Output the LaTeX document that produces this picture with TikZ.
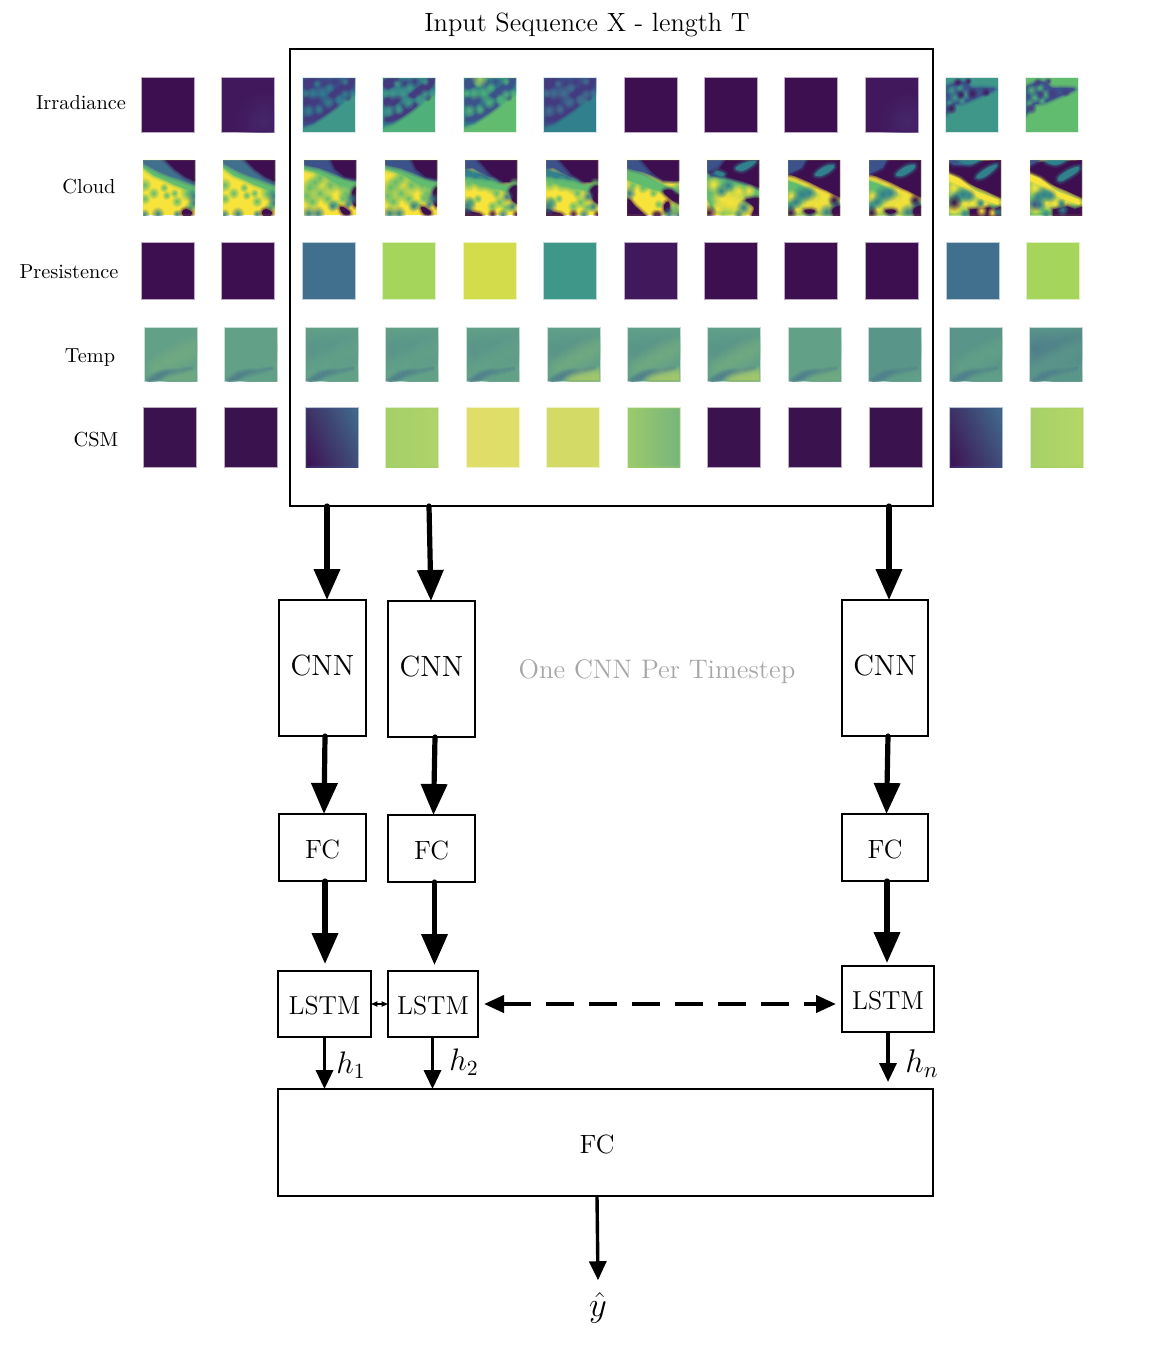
\documentclass[tikz,border=0pt]{standalone}
\usetikzlibrary{arrows.meta,fadings}
\definecolor{pu}{HTML}{3D0E50}
\definecolor{pub}{HTML}{41185C}
\definecolor{puc}{HTML}{3A134E}
\definecolor{puz}{HTML}{47266A}
\definecolor{ind}{HTML}{443A80}
\definecolor{bl}{HTML}{3B528B}
\definecolor{st}{HTML}{416F8E}
\definecolor{te}{HTML}{31808D}
\definecolor{tg}{HTML}{3F978A}
\definecolor{gr}{HTML}{4FB079}
\definecolor{gs}{HTML}{62BC70}
\definecolor{lg}{HTML}{8ACB62}
\definecolor{ll}{HTML}{A6D55C}
\definecolor{ye}{HTML}{F8E33A}
\definecolor{yg}{HTML}{D3DD4C}
\definecolor{tb}{HTML}{62A088}
\definecolor{tc}{HTML}{5A9589}
\definecolor{td}{HTML}{4F7F8C}
\definecolor{tl}{HTML}{70AA82}
\definecolor{tk}{HTML}{A4C96C}
\definecolor{csa}{HTML}{A3CF68}
\definecolor{csb}{HTML}{B0D46A}
\definecolor{csc}{HTML}{DEDE68}
\definecolor{csd}{HTML}{D3DA66}
\definecolor{cse}{HTML}{70B080}
\definecolor{csf}{HTML}{B8D866}
\definecolor{graytxt}{HTML}{A6A6A6}
\tikzfading[name=softspot,inner color=transparent!0,outer color=transparent!100]
\tikzset{
  boxn/.style={draw,line width=.68pt,inner sep=0pt,outer sep=0pt},
  labn/.style={inner sep=0pt},
  big/.style={line width=2.6pt,line cap=round,-{Triangle[length=15.5pt,width=12.8pt]}},
  thin arrow/.style={line width=1.7pt,-{Triangle[length=9.5pt,width=8.5pt]}},
  softb/.style={fill=#1,line join=round,
     preaction={draw=#1,draw opacity=.14,line width=3.2pt},
     preaction={draw=#1,draw opacity=.2,line width=2.1pt},
     preaction={draw=#1,draw opacity=.3,line width=1.1pt}}
}
\newcommand\shft[2]{\raisebox{#1}[\height][\depth]{#2}}
\def\edgeop{.35}
\newcommand\tile[6]{%
 \begin{scope}[shift={(#1,#2)},x=#3*0.05pt,y=#4*-0.05pt]
  \begin{scope}
   \clip (0,0) rectangle (10,10);
   \fill[#5] (0,0) rectangle (10,10);
   #6
  \end{scope}
  \draw[#5,draw opacity=\edgeop,line width=.9pt] (0,0) rectangle (10,10);
 \end{scope}}
\newcommand\blb[2]{\path[softb=#1] plot[smooth cycle,tension=.7] coordinates {#2};}
\newcommand\pgn[2]{\path[softb=#1] #2 -- cycle;}
\newcommand\spk[2]{\foreach \sx/\sy/\sr in {#2}{\fill[#1,path fading=softspot] (\sx,\sy) circle[radius=2.3*\sr];}}
% irradiance, mottled upper part
\newcommand\irr[3]{%
 \pgn{#1}{(0,0)--(10,0)--(10,2.5)--(8,3.6)--(6.5,5)--(4,6.6)--(2,8.3)--(0,9)}
 \blb{#2}{(.5,7.4)(3,6.5)(5.8,4.7)(6.6,5)(3.4,7.3)(.9,8.1)}
 \blb{#2}{(4.8,3.2)(7,1.6)(9,0)(10,.2)(9,2)(6.4,3.6)}
 \blb{#2}{(-.2,1)(1.5,-.2)(3,.4)(1.2,2)}
 \blb{#2}{(.3,4)(2,3.4)(3.6,3.6)(2.2,5)(.6,5.3)}
 \spk{#2}{4.2/1/.6, 6/.6/.5, 8.5/3.5/.4, 3.9/5.2/.45, 2/6/.5}
 \spk{#3}{1.8/2.8/.6, 3.7/2.8/.7, 5/1.8/.5, 1/6/.6, 3/5.8/.5, 4.8/4.5/.6, 7/3.8/.5, .4/2.8/.4, 8/.6/.4, 2.6/1/.4, 9.5/2.7/.4, 7/4.2/.5, 8/3/.5}
}
\newcommand\irrb[3]{%
 \blb{#2}{(-.3,6.8)(1.5,5)(3.5,4.6)(6,3.6)(9.4,2.1)(7,1.8)(5,1.8)(3.5,.7)(1,1.2)(-.3,2.4)}
 \spk{#3}{1/2.2/.5, 2.6/1.8/.45, 1.6/3.6/.5, 3.6/3/.5, .6/4.6/.4, 3/4.2/.4}
 \spk{#1}{5/2.8/.5, 2.2/.7/.4, 4.2/.5/.35, 7.6/2.6/.4, 1/5.6/.5, 2.8/3/.4}
}
% temperature
\newcommand\tmpt[4]{%
 \spk{#1}{1/4/1.8, 5/3.8/1.8, 9/3.4/1.8}
 \spk{#2}{2/7.4/1, 4/6.4/1.2, 6/5.4/1.3, 8/4.4/1.3, 10/3.6/1.2}
 \spk{#3}{.8/10/.45, 1.6/9.5/.5, 2.4/9/.5, 3.2/8.7/.5, 4/8.5/.45, 4.8/8.4/.45, 5.6/8.3/.4, 6.4/8.2/.35, 7.2/8/.35, 8/7.8/.3, 8.8/7.6/.25}
 \spk{#4}{4.6/10.2/.9, 6/9.8/1, 7.4/9.6/1, 8.8/9.4/1, 10/9.2/1}
}
% cloud tiles
\newcommand\cldA{%
 \pgn{gs}{(0,0)--(10,0)--(10,6.8)--(8.5,5.4)--(6,4.5)--(4,3.6)--(2,2.8)--(0,1.4)}
 \pgn{st}{(0,0)--(10,0)--(10,4.6)--(7,3.5)--(5,2.9)--(3,2.1)--(0,.6)}
 \pgn{pu}{(4.3,0)--(10,0)--(10,3.9)--(8,3)--(6,1.6)}
 \spk{gs}{.3/4.5/.6, 8.5/6/.7, 2/6/.5, 4.5/6.4/.4, 6.5/7.5/.5, 9/8.5/.5, .3/7/.5, 4/5/.4, 6/6/.4}
 \spk{te}{9.8/6.5/.7, 9.8/7.8/.6, 2.8/9.8/.6, .2/9.9/.5, 6.5/9.8/.4}
 \blb{pu}{(7.5,9.4)(8.3,8.9)(9.4,9.5)(9,10.3)(7.8,10.2)}
}
\newcommand\cldB{%
 \pgn{gs}{(0,0)--(10,0)--(10,6)--(8.5,5)--(6,4.2)--(4,3)--(2,2.2)--(0,1.7)}
 \pgn{bl}{(0,0)--(10,0)--(10,3.8)--(7,3)--(5,2.2)--(3,1.5)--(0,.9)}
 \pgn{pu}{(5.2,0)--(10,0)--(10,3.4)--(7.8,3)--(6,1.6)}
 \spk{gs}{1/5/.8, 3/6/.7, 2/4/.7, 5/4.5/.8, 7/4.5/.6, 4.5/7/.6, 1.5/7.5/.7, 8/6/.8, 6/8/.5, .4/6.5/.6, 7.5/7/.5, 9/5/.6, 3/3.2/.6}
 \blb{pu}{(9.2,6)(10.2,5)(10.2,8.2)(9.4,8)}
 \spk{te}{.8/9.7/.65, 2.6/9.7/.65, 5.4/8.3/.5, 9/7/.55, 8.4/8/.4}
 \blb{pu}{(6.9,8.8)(7.4,8.5)(8.8,9.4)(8.6,10)(7.6,9.9)}
}
\newcommand\cldC{%
 \pgn{gs}{(0,1.6)--(2,2.2)--(4,3)--(7,4.5)--(10,4.6)--(10,6)--(7.5,5.6)--(5,5)--(3,4.6)--(0,3.8)}
 \pgn{te}{(0,1.8)--(1.6,2.3)--(3,2.6)--(5,3.4)--(7,4)--(0,3)}
 \pgn{bl}{(0,0)--(10,0)--(10,3.5)--(7.2,4)--(4,2.8)--(1.5,1.5)--(0,1.6)}
 \pgn{pu}{(2.6,0)--(10,0)--(10,4)--(7.4,4)--(5,2.6)}
 \spk{gs}{3/4.3/.7, 5/4.6/.75, .6/4.2/.7, 6/6/.5, 1/7.6/.5, 6.6/7.6/.55, 5.2/8.4/.5, 7.8/8.6/.5, 2.4/7/.4, 9.4/4.2/.5, 8/5/.5}
 \blb{pu}{(8.6,5.4)(10.2,4.8)(10.2,7.8)(9,7.2)}
 \blb{pu}{(.2,8.8)(1.4,9.4)(3,9.8)(3,10.3)(0,10.3)}
 \spk{te}{.4/8.2/.8, 8/6.6/.55, 9/8.4/.5, 7.2/9.9/.5}
 \spk{pu}{5.2/9.8/.45, 9.8/9.8/.4}
}
\newcommand\cldD{%
 \pgn{gs}{(0,1)--(4,3)--(8,5)--(10,5.4)--(10,6.4)--(5,5.4)--(0,3.6)}
 \pgn{bl}{(0,0)--(10,0)--(10,3.8)--(7,3.7)--(3,2.2)--(0,1.5)}
 \pgn{pu}{(2.8,0)--(10,0)--(10,3.8)--(7,3.7)--(5,2.4)}
 \blb{pu}{(.0,7)(1.6,8.4)(3,9.6)(3.4,10.3)(-.3,10.3)}
 \spk{pu}{5.4/9.9/.45, 6/9.9/.45}
 \blb{pu}{(7,5.8)(8.4,5.4)(10.3,6.6)(10.3,8)(8.8,7.4)}
 \blb{pu}{(7.1,8.2)(8,7.6)(8.3,9.2)(7.4,9.5)}
 \spk{gs}{1/4.6/.5, 3/5/.5, 9.8/5/.6, 9.2/8.7/.6, 5/6/.4, 6/8/.4}
 \spk{te}{.4/6/.6, 9.8/10/.6, 8/9.8/.6}
}
\newcommand\cldE{%
 \pgn{gs}{(0,1.6)--(10,5.2)--(10,8)--(8,7.4)--(6,9.6)--(3,10)--(1,9)--(0,7)}
 \pgn{bl}{(0,0)--(10,0)--(10,5)--(7,4)--(3,3)--(.8,3)--(0,2)}
 \pgn{pu}{(3.6,0)--(10,0)--(10,5)--(7.4,4)--(3.6,3)--(1,2.2)--(2.4,1.6)}
 \blb{te}{(5.5,1.4)(7.5,.4)(9.4,.2)(8.4,1.2)(6.6,2)}
 \blb{te}{(1.4,2.4)(2,2)(3.4,2.5)(2.8,3)}
 \spk{ye}{4.4/7.6/1.5, 6/7.8/1.1, 3/7/1.1, 1.2/4.4/.7, 6/5.6/.6, 8/5.6/.6, 2/8.8/.6, 7/9.8/.5}
 \blb{pu}{(7.4,7.4)(8.4,7)(10.3,7.2)(10.3,10.3)(8.6,10.3)(9,8.6)}
 \spk{pu}{.3/9.6/.7}
 \spk{te}{2.7/5.6/.6, 4/4.6/.6, 7/8.6/.7, 6/9.9/.45}
}
\newcommand\cldF{%
 \pgn{gs}{(0,3.8)--(2,4.4)--(5,6)--(10,8)--(10,10)--(0,10)}
 \pgn{pu}{(0,0)--(10,0)--(10,6.8)--(7,5.4)--(4,4)--(1.5,3)--(0,2.6)}
 \pgn{bl}{(0,0)--(3.4,0)--(2.6,1.4)--(0,2.6)}
 \blb{te}{(5.2,2.6)(7,1.2)(8.8,.9)(8.4,1.8)(6.4,2.9)}
 \spk{ye}{5.4/8/1.3, 7/8/1.1, 3.6/8.4/.9, 1.6/9/.7, 4.4/7/.6, .6/6.6/.6, 6.8/6.8/.7}
 \spk{te}{2.6/6.2/.8, 4/6/.7, 1.4/7.6/.6, 9.2/7.9/.6, 7.4/9.4/.7, 4.2/9.9/.5, .4/8.4/.5}
 \blb{pu}{(3.2,9.1)(4.6,9)(5.2,9.4)(4.2,9.8)(3.4,9.6)}
 \blb{pu}{(8.6,8.9)(10.3,8.4)(10.3,10.3)(8.9,10.3)}
 \spk{pu}{.4/9.6/.6, 8.8/7.2/.55}
}
\newcommand\cldG{%
 \pgn{gs}{(0,2.4)--(2,3.2)--(5,5.4)--(9.5,7)--(10,8.6)--(10,10)--(0,10)}
 \pgn{pu}{(0,.4)--(10,0)--(10,7)--(7,5.6)--(4,4.4)--(1.6,3)--(0,2.4)}
 \pgn{bl}{(0,0)--(5,0)--(4,.8)--(1,.9)--(0,.4)}
 \blb{te}{(5.4,2.8)(7.4,1.4)(9.2,.8)(8.8,1.6)(7,3)(5.6,3.4)}
 \blb{te}{(2,.2)(5,-.2)(6,0)(4,.8)}
 \pgn{ye}{(0,2.6)--(2,3.4)--(5,5.6)--(9.5,7.2)--(9.6,8.2)--(6,7)--(4,5.8)--(2,4.6)--(0,3.8)}
 \spk{ye}{.8/5/.8, 4.4/7.8/.9, 1.4/8.8/.7, 3/8/.6, .6/9/.5, 6.8/8/.7}
 \spk{te}{2.6/6.2/.7, 3.8/6.4/.6, 1.4/6.6/.5, 6/7.8/.4}
 \spk{pu}{.9/7.7/.7}
 \pgn{pu}{(4,9)--(6,8.8)--(7.8,8.6)--(8.6,8.9)--(10.3,8.4)--(10.3,10.3)--(4,10.3)}
 \spk{ye}{6.2/9.2/.5, 8.3/9.5/.45}
 \spk{te}{3/9.9/.45, 9.4/9.4/.45}
}
\newcommand\cldH{%
 \pgn{gs}{(0,2.4)--(2,3.2)--(5,5.4)--(9.5,7)--(10,8.6)--(10,10)--(0,10)}
 \pgn{pu}{(0,.4)--(10,0)--(10,7)--(7,5.6)--(4,4.4)--(1.6,3)--(0,2.4)}
 \pgn{bl}{(0,0)--(2,0)--(0,1)}
 \blb{te}{(5.4,3.2)(7.4,1.8)(9.4,1.2)(9,2.2)(7,3.4)(5.8,3.9)}
 \blb{te}{(3,.2)(6,-.2)(7,0)(5,.9)}
 \pgn{ye}{(0,2.6)--(2,3.4)--(5,5.6)--(9.5,7.2)--(9.6,8.2)--(6,7)--(4,5.8)--(2,4.6)--(0,3.8)}
 \spk{ye}{.8/5/.8, 4.6/7.8/.9, 1/8.8/.6, 3/7.8/.6, 6.8/8/.7}
 \spk{te}{2.6/6.2/.7, 3.8/6.4/.6, 1.4/6.6/.5, 6/7.8/.4, 1.8/8/.6}
 \spk{bl}{.8/8/.6}
 \pgn{pu}{(4.4,9)--(7.2,8.4)--(8.6,8.9)--(10.3,8.4)--(10.3,10.3)--(4.4,10.3)}
 \spk{te}{6.2/9/.55, 3/9.9/.45}
}
\newcommand\cshade[4]{\shade[left color=#1,middle color=#2,right color=#3,shading angle=#4] (-2,-2) rectangle (12,12);}
\begin{document}
\begin{tikzpicture}[x=0.5pt,y=-0.5pt]
\useasboundingbox (0,0) rectangle (1154,1372);

% ---- heat-map tiles: Irradiance
\tile{142}{78}{52}{54}{pu}{}
\tile{222}{78}{52}{54}{pub}{\spk{puz}{8/8/2.5}}
\def\edgeop{.2}
\tile{303}{78}{52}{54}{tg}{\irr{bl}{ind}{te}}
\tile{383}{78}{52}{54}{gr}{\irr{te}{ind}{tg}}
\tile{464}{78}{52}{54}{gs}{\irr{te}{bl}{gr}\spk{ll}{3/0/.8}}
\tile{544}{78}{52}{54}{te}{\irr{bl}{ind}{st}}
\def\edgeop{.35}
\tile{625}{78}{52}{54}{pu}{}
\tile{705}{78}{52}{54}{pu}{}
\tile{785}{78}{52}{54}{pu}{}
\tile{866}{78}{52}{54}{pub}{\spk{puz}{8/8/2.5}}
\def\edgeop{.2}
\tile{946}{78}{52}{54}{tg}{\irrb{pub}{bl}{tg}}
\tile{1026}{78}{52}{54}{gs}{\irrb{ind}{bl}{gr}}

% ---- Cloud
\def\edgeop{.1}
\tile{143}{160}{52}{55}{ye}{\cldA}
\tile{223}{160}{52}{55}{ye}{\cldA}
\tile{304}{160}{52}{55}{ye}{\cldB}
\tile{385}{160}{52}{55}{ye}{\cldB}
\tile{465}{160}{52}{55}{ye}{\cldC}
\tile{546}{160}{52}{55}{ye}{\cldC}
\tile{627}{160}{52}{55}{ye}{\cldD}
\tile{707}{160}{52}{55}{ye}{\cldE}
\tile{788}{160}{52}{55}{ye}{\cldF}
\tile{869}{160}{52}{55}{ye}{\cldF}
\tile{949}{160}{52}{55}{ye}{\cldG}
\tile{1030}{160}{52}{55}{ye}{\cldH}
\def\edgeop{.35}

% ---- Persistence
\foreach \xx/\cc in {142/pu,222/pu,303/st,383/ll,464/yg,544/tg,625/pub,705/pu,785/pu,866/pu,947/st,1027/ll}
  {\tile{\xx}{243}{52}{56}{\cc}{}}

% ---- Temp
\tile{145}{328}{52}{53}{tb}{\tmpt{tb}{tl}{td}{tl}}
\tile{225}{328}{52}{53}{tb}{\tmpt{tb}{tb}{td}{tb}}
\tile{306}{328}{52}{53}{tb}{\tmpt{tc}{tb}{td}{tb}}
\tile{386}{328}{52}{53}{tb}{\tmpt{tc}{tb}{td}{tb}}
\tile{467}{328}{52}{53}{tb}{\tmpt{tc}{tb}{td}{tb}}
\tile{548}{328}{52}{53}{tb}{\tmpt{tc}{tl}{td}{tk}}
\tile{628}{328}{52}{53}{tb}{\tmpt{tc}{tl}{td}{tk}}
\tile{708}{328}{52}{53}{tb}{\tmpt{tc}{tl}{td}{tk}}
\tile{789}{328}{52}{53}{tb}{\tmpt{tb}{tb}{td}{tl}}
\tile{869}{328}{52}{53}{tc}{\tmpt{tc}{tc}{td}{tb}}
\tile{950}{328}{52}{53}{tc}{\tmpt{tc}{tb}{td}{tb}}
\tile{1030}{328}{52}{53}{tc}{\tmpt{td}{tc}{td}{tc}}

% ---- CSM
\tile{144}{408}{52}{59}{puc}{}
\tile{225}{408}{52}{59}{puc}{}
\tile{306}{408}{52}{59}{bl}{\cshade{pu}{ind}{st}{115}}
\tile{386}{408}{52}{59}{csa}{\cshade{csa}{csa}{csb}{90}}
\tile{467}{408}{52}{59}{csc}{}
\tile{547}{408}{52}{59}{csd}{}
\tile{628}{408}{52}{59}{csa}{\cshade{csa}{lg}{cse}{90}}
\tile{708}{408}{52}{59}{puc}{}
\tile{789}{408}{52}{59}{puc}{}
\tile{870}{408}{52}{59}{puc}{}
\tile{950}{408}{52}{59}{bl}{\cshade{pu}{ind}{st}{115}}
\tile{1031}{408}{52}{59}{csa}{\cshade{csa}{csa}{csf}{90}}

% ---- text labels
\node[labn,font=\fontsize{13.2}{16}\selectfont] (title) at (587,24.5) {Input Sequence X - length T};
\node[labn,font=\fontsize{10.15}{13}\selectfont] (lirr) at (81,103) {Irradiance};
\node[labn,font=\fontsize{10.15}{13}\selectfont] (lcld) at (89,187) {Cloud};
\node[labn,font=\fontsize{10.15}{13}\selectfont] (lper) at (69,272) {Presistence};
\node[labn,font=\fontsize{10.15}{13}\selectfont] (ltmp) at (90,358) {Temp};
\node[labn,font=\fontsize{10.15}{13}\selectfont] (lcsm) at (96,440) {CSM};
\node[labn,text=graytxt,font=\fontsize{13.4}{16}\selectfont] (note) at (657,672) {One CNN Per Timestep};

% ---- boxes
\node[boxn,minimum width=321.5pt,minimum height=228.5pt] (input) at (611.5,277.5) {};
\node[boxn,minimum width=43.5pt,minimum height=68pt,font=\fontsize{14.6}{16}\selectfont] (cnna) at (322.5,668) {\shft{1pt}{CNN}};
\node[boxn,minimum width=43.5pt,minimum height=68pt,font=\fontsize{14.6}{16}\selectfont] (cnnb) at (431.5,669) {\shft{1pt}{CNN}};
\node[boxn,minimum width=43pt,minimum height=68pt,font=\fontsize{14.6}{16}\selectfont] (cnnc) at (885,668) {\shft{1pt}{CNN}};
\node[boxn,minimum width=43.5pt,minimum height=33.5pt,font=\fontsize{13.2}{15}\selectfont] (fca) at (322.5,847.5) {\shft{-.8pt}{FC}};
\node[boxn,minimum width=43.5pt,minimum height=33.5pt,font=\fontsize{13.2}{15}\selectfont] (fcb) at (431.5,848.5) {\shft{-.8pt}{FC}};
\node[boxn,minimum width=43pt,minimum height=33.5pt,font=\fontsize{13.2}{15}\selectfont] (fcc) at (885,847.5) {\shft{-.8pt}{FC}};
\node[boxn,minimum width=46.5pt,minimum height=33pt,font=\fontsize{13}{15}\selectfont] (lstma) at (324.5,1004) {\shft{-1pt}{LSTM}};
\node[boxn,minimum width=45pt,minimum height=33pt,font=\fontsize{13}{15}\selectfont] (lstmb) at (433,1004) {\shft{-1pt}{LSTM}};
\node[boxn,minimum width=46pt,minimum height=33pt,font=\fontsize{13}{15}\selectfont] (lstmc) at (888,999) {\shft{-1pt}{LSTM}};
\node[boxn,minimum width=327.5pt,minimum height=53.5pt] (fcall) at (605.5,1142.5) {};
\node[labn,font=\fontsize{13.2}{15}\selectfont] (fcalltext) at (597,1144) {FC};
\node[labn,font=\LARGE] (yhat) at (598,1308) {$\hat{y}$};
\node[labn,font=\Large,scale=1.08] (ha) at (351,1065) {$h_1$};
\node[labn,font=\Large,scale=1.08] (hb) at (464,1062) {$h_2$};
\node[labn,font=\Large,scale=1.14] (hc) at (922,1064) {$h_n$};

% ---- connectors
\draw[big] ([xshift=-142.25pt]input.south) -- ([xshift=2.25pt]cnna.north);
\draw[big] ([xshift=-91.25pt]input.south) -- ([xshift=-.25pt]cnnb.north);
\draw[big] ([xshift=138.75pt]input.south) -- ([xshift=2pt]cnnc.north);
\draw[big] ([xshift=1.25pt]cnna.south) -- ([xshift=.75pt]fca.north);
\draw[big] ([xshift=1.75pt]cnnb.south) -- ([xshift=1pt]fcb.north);
\draw[big] ([xshift=1.5pt]cnnc.south) -- ([xshift=.75pt]fcc.north);
\draw[big,shorten >=3.5pt] ([xshift=1.25pt]fca.south) -- ([xshift=.25pt]lstma.north);
\draw[big,shorten >=3pt] ([xshift=1.5pt]fcb.south) -- ([xshift=.75pt]lstmb.north);
\draw[big,shorten >=1.5pt] ([xshift=1pt]fcc.south) -- ([xshift=-.5pt]lstmc.north);
\draw[thin arrow] (lstma.south) -- ([xshift=-140.5pt]fcall.north);
\draw[thin arrow] ([xshift=-.25pt]lstmb.south) -- ([xshift=-86.5pt]fcall.north);
\draw[thin arrow,shorten >=3.5pt] (lstmc.south) -- ([xshift=141.25pt]fcall.north);
\draw[thin arrow] ([xshift=-4.25pt]fcall.south) -- ([yshift=6pt]yhat.north);
\draw[line width=.7pt,{Triangle[length=3.2pt,width=2.6pt]}-{Triangle[length=3.2pt,width=2.6pt]}] (lstma.east) -- (lstmb.west);
\draw[line width=2pt,dash pattern=on 14pt off 7.5pt,{Triangle[length=10pt,width=8.5pt]}-{Triangle[length=10pt,width=8.5pt]},shorten <=3pt,shorten >=3pt]
  (lstmb.east) -- ([yshift=-2.5pt]lstmc.west);
\end{tikzpicture}
\end{document}
